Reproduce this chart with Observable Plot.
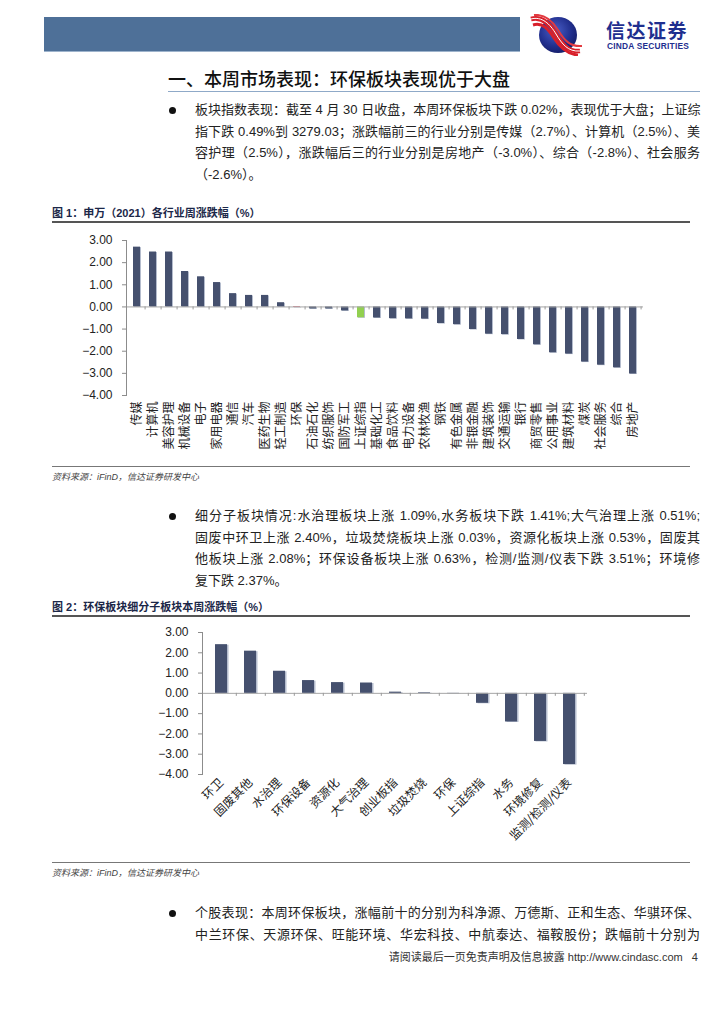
<!DOCTYPE html>
<html>
<head>
<meta charset="utf-8">
<script src="https://cdn.jsdelivr.net/npm/d3@7"></script>
<script src="https://cdn.jsdelivr.net/npm/@observablehq/plot@0.6"></script>
<style>
  html, body { margin:0; padding:0; background:#fff; }
  body { width:724px; height:1024px; position:relative; overflow:hidden;
         font-family:"Liberation Sans","Noto Sans CJK SC",sans-serif; color:#222; }
  .abs { position:absolute; }
  .hbar { left:44px; top:17px; width:476px; height:34px; background:#4E7098; border-bottom:1px solid #9db3cc; }
  .brand { left:606px; top:20px; font-family:"Noto Sans CJK SC",sans-serif; font-weight:bold; font-size:19px; color:#1f2f8f; letter-spacing:1.5px; line-height:20px; height:20px; }
  .brand2 { left:607px; top:41px; font-family:"Liberation Sans",sans-serif; font-weight:bold; font-size:8.4px; color:#1f2f8f; letter-spacing:0.2px; line-height:10px; height:10px; }
  .h1 { left:168px; top:66px; font-family:"Noto Sans CJK SC",sans-serif; font-weight:500; font-size:18px; color:#111; line-height:24px; white-space:nowrap; }
  .h1line { left:168px; top:91px; width:532px; height:1px; background:#8fa9c8; }
  .bullet { width:7px; height:7px; border-radius:50%; background:#111; }
  .para { left:195px; width:505px; font-size:13px; color:#222; }
  .para div { height:21.5px; line-height:21.5px; text-align:justify; text-align-last:justify; white-space:nowrap; }
  .para div.last { text-align-last:left; }
  .ftitle { left:52px; font-family:"Liberation Sans","Noto Sans CJK SC",sans-serif; font-weight:bold; font-size:11px; color:#1b2748; white-space:nowrap; line-height:14px; }
  .fline { left:52px; width:638px; height:1.5px; background:#555; }
  .cline { left:52px; width:638px; height:1px; background:#777; }
  .cap { left:52px; font-size:9px; font-style:italic; color:#444; white-space:nowrap; line-height:12px; }
  .footer { right:26px; top:950px; font-size:11px; color:#333; white-space:nowrap; line-height:14px; }
</style>
</head>
<body>
<div class="abs hbar"></div>
<svg class="abs" style="left:530px;top:14px" width="54" height="42" viewBox="0 0 54 42">
  <defs>
    <radialGradient id="sph" cx="0.42" cy="0.38" r="0.7">
      <stop offset="0" stop-color="#4a5fc8"/>
      <stop offset="0.6" stop-color="#22308f"/>
      <stop offset="1" stop-color="#121a62"/>
    </radialGradient>
  </defs>
  <ellipse cx="28" cy="21" rx="19" ry="18" fill="url(#sph)"/>
  <path d="M1 5 C 12 2, 20 10, 26 20 S 38 38, 50 37" stroke="#d8202a" stroke-width="4.5" fill="none"/>
  <path d="M1 5 C 12 2, 20 10, 26 20 S 38 38, 50 37" stroke="#ffffff" stroke-width="1" fill="none"/>
  <path d="M3 11 C 13 8, 19 16, 24 24 S 36 40, 48 41" stroke="#d8202a" stroke-width="3" fill="none"/>
  <path d="M4 1 C 15 0, 22 6, 28 16 S 40 33, 52 32" stroke="#e23a40" stroke-width="2" fill="none"/>
</svg>
<div class="abs brand">信达证券</div>
<div class="abs brand2">CINDA SECURITIES</div>

<div class="abs h1">一、本周市场表现：环保板块表现优于大盘</div>
<div class="abs h1line"></div>

<div class="abs bullet" style="left:169px;top:107px"></div>
<div class="abs para" style="top:99px">
  <div>板块指数表现：截至 4 月 30 日收盘，本周环保板块下跌 0.02%，表现优于大盘；上证综</div>
  <div>指下跌 0.49%到 3279.03；涨跌幅前三的行业分别是传媒（2.7%）、计算机（2.5%）、美</div>
  <div>容护理（2.5%），涨跌幅后三的行业分别是房地产（-3.0%）、综合（-2.8%）、社会服务</div>
  <div class="last">（-2.6%）。</div>
</div>

<div class="abs ftitle" style="top:206px">图 1：申万（2021）各行业周涨跌幅（%）</div>
<div class="abs fline" style="top:221px"></div>
<div id="chart1" class="abs" style="left:0;top:230px"></div>
<div class="abs cline" style="top:466px"></div>
<div class="abs cap" style="top:471px">资料来源：iFinD，信达证券研发中心</div>

<div class="abs bullet" style="left:169px;top:513px"></div>
<div class="abs para" style="top:505px">
  <div>细分子板块情况:水治理板块上涨 1.09%,水务板块下跌 1.41%;大气治理上涨 0.51%;</div>
  <div>固废中环卫上涨 2.40%，垃圾焚烧板块上涨 0.03%，资源化板块上涨 0.53%，固废其</div>
  <div>他板块上涨 2.08%；环保设备板块上涨 0.63%，检测/监测/仪表下跌 3.51%；环境修</div>
  <div class="last">复下跌 2.37%。</div>
</div>

<div class="abs ftitle" style="top:600px">图 2：环保板块细分子板块本周涨跌幅（%）</div>
<div class="abs fline" style="top:615px"></div>
<div id="chart2" class="abs" style="left:0;top:622px"></div>
<div class="abs cline" style="top:862px"></div>
<div class="abs cap" style="top:867px">资料来源：iFinD，信达证券研发中心</div>

<div class="abs bullet" style="left:169px;top:910px"></div>
<div class="abs para" style="top:902px">
  <div>个股表现：本周环保板块，涨幅前十的分别为科净源、万德斯、正和生态、华骐环保、</div>
  <div>中兰环保、天源环保、旺能环境、华宏科技、中航泰达、福鞍股份；跌幅前十分别为</div>
</div>

<div class="abs footer">请阅读最后一页免责声明及信息披露 http://www.cindasc.com &nbsp;&nbsp;4</div>

<script>
// ---------- Data ----------
const cats1 = ["传媒","计算机","美容护理","机械设备","电子","家用电器","通信","汽车","医药生物","轻工制造","环保","石油石化","纺织服饰","国防军工","上证综指","基础化工","食品饮料","电力设备","农林牧渔","钢铁","有色金属","非银金融","建筑装饰","交通运输","银行","商贸零售","公用事业","建筑材料","煤炭","社会服务","综合","房地产"];
const vals1 = [2.70,2.48,2.48,1.60,1.36,1.10,0.60,0.52,0.52,0.19,-0.02,-0.09,-0.09,-0.18,-0.49,-0.50,-0.53,-0.54,-0.55,-0.75,-0.80,-1.02,-1.23,-1.25,-1.47,-1.71,-2.07,-2.13,-2.49,-2.63,-2.75,-3.03];
const redCats1 = ["环保"];
const greenCats1 = ["上证综指"];

const cats2 = ["环卫","固废其他","水治理","环保设备","资源化","大气治理","创业板指","垃圾焚烧","环保","上证综指","水务","环境修复","监测/检测/仪表"];
const vals2 = [2.40,2.08,1.09,0.63,0.53,0.51,0.06,0.03,-0.02,-0.49,-1.41,-2.37,-3.51];

const yTicks = [3,2,1,0,-1,-2,-3,-4];

// ---------- Styles ----------
const NAVY = "#45506e", SHADOW = "#b4bccd", RED = "#c0001a", GREEN = "#92d050";
const FONT = "'Liberation Sans','Noto Sans CJK SC',sans-serif";

function makeChart({cats, vals, colorOf, width, height, mt, mb, ml, mr, pad, rotate, labelPad, shadowDx}) {
  const data = cats.map((c, i) => ({cat: c, val: vals[i], color: colorOf(c)}));
  const step = (width - ml - mr) / cats.length;
  const pxPerUnit = (height - mt - mb) / (yTicks[0] - yTicks[yTicks.length - 1]);
  const tickLen = 3 / pxPerUnit;
  return Plot.plot({
    width, height, marginTop: mt, marginBottom: mb, marginLeft: ml, marginRight: mr,
    style: {fontFamily: FONT, fontSize: "12px", color: "#222", background: "transparent", overflow: "visible"},
    x: {domain: cats, paddingInner: pad, paddingOuter: pad / 2, label: null},
    y: {domain: [yTicks[yTicks.length - 1], yTicks[0]], label: null},
    color: {type: "identity"},
    marks: [
      Plot.barY(data, {x: "cat", y: "val", fill: SHADOW, dx: shadowDx, dy: 0.5}),
      Plot.barY(data, {x: "cat", y: "val", fill: "color"}),
      Plot.ruleY([0], {stroke: "#a6a6a6", strokeWidth: 1}),
      Plot.ruleX(cats, {x: d => d, dx: step / 2, y1: 0, y2: -tickLen, stroke: "#999"}),
      Plot.frame({anchor: "left", stroke: "#8c8c8c"}),
      Plot.axisY({ticks: yTicks, tickFormat: d3.format(".2f"), tickSize: 4, tickPadding: 10,
                  fontSize: 12, stroke: "#8c8c8c", label: null}),
      Plot.axisX({tickRotate: rotate, tickSize: 0, tickPadding: labelPad, fontSize: 12, label: null,
                  fontFamily: "'Noto Sans CJK SC',sans-serif"})
    ]
  });
}

document.getElementById("chart1").appendChild(makeChart({
  cats: cats1, vals: vals1,
  colorOf: c => redCats1.includes(c) ? RED : greenCats1.includes(c) ? GREEN : NAVY,
  width: 724, height: 235, mt: 10, mb: 70, ml: 126, mr: 81, pad: 0.58, rotate: -90, labelPad: 6, shadowDx: 1
}));

document.getElementById("chart2").appendChild(makeChart({
  cats: cats2, vals: vals2,
  colorOf: c => NAVY,
  width: 724, height: 242, mt: 10, mb: 90, ml: 202, mr: 137, pad: 0.6, rotate: -45, labelPad: 6, shadowDx: 1.5
}));
</script>
</body>
</html>
